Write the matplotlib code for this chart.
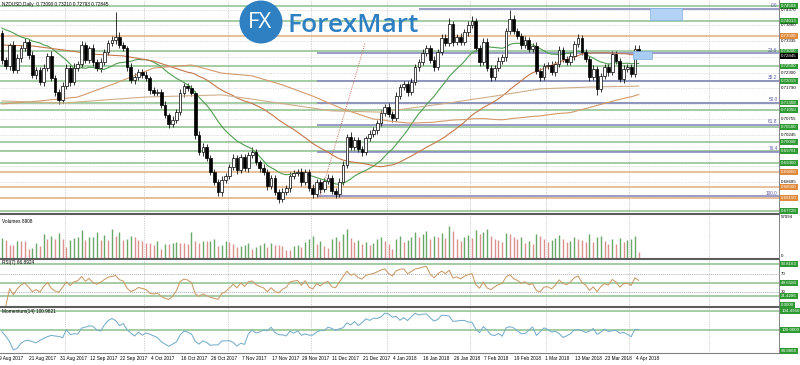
import numpy as np
import pandas as pd
import matplotlib
matplotlib.use("Agg")
import matplotlib.pyplot as plt
from matplotlib.patches import Rectangle, Circle
from matplotlib.transforms import blended_transform_factory as blend

plt.rcParams['font.family'] = ['Liberation Sans', 'DejaVu Sans']

# ---- values (NZDUSD daily, 9 Aug 2017 - 4 Apr 2018) ----
first_open = 0.7361
closes = [
    0.7271, 0.7252, 0.7321, 0.7238, 0.7278, 0.7311, 0.7331, 0.7288,
    0.7222, 0.7238, 0.7199, 0.7245, 0.7285, 0.7212, 0.7166, 0.7139,
    0.7185, 0.7245, 0.7199, 0.7245, 0.7258, 0.7321, 0.7271, 0.7311,
    0.7265, 0.7245, 0.7265, 0.7298, 0.7328, 0.7338, 0.7348, 0.7321,
    0.7311, 0.7248, 0.7205, 0.7215, 0.7232, 0.7222, 0.7212, 0.7172,
    0.7162, 0.7166, 0.7123, 0.7089, 0.7060, 0.7073, 0.7099, 0.7162,
    0.7185, 0.7179, 0.7162, 0.7023, 0.6967, 0.6984, 0.6947, 0.6901,
    0.6868, 0.6835, 0.6874, 0.6888, 0.6917, 0.6947, 0.6907, 0.6950,
    0.6914, 0.6957, 0.6967, 0.6934, 0.6914, 0.6901, 0.6854, 0.6881,
    0.6835, 0.6811, 0.6835, 0.6848, 0.6888, 0.6897, 0.6901, 0.6868,
    0.6901, 0.6848, 0.6828, 0.6868, 0.6845, 0.6871, 0.6881, 0.6838,
    0.6828, 0.6868, 0.6924, 0.7017, 0.6984, 0.7007, 0.6977, 0.6967,
    0.7013, 0.7027, 0.7040, 0.7063, 0.7096, 0.7116, 0.7093, 0.7079,
    0.7152, 0.7182, 0.7192, 0.7166, 0.7199, 0.7248, 0.7265, 0.7295,
    0.7311, 0.7271, 0.7248, 0.7298, 0.7344, 0.7328, 0.7391, 0.7331,
    0.7348, 0.7331, 0.7364, 0.7387, 0.7401, 0.7311, 0.7265, 0.7331,
    0.7245, 0.7215, 0.7245, 0.7268, 0.7281, 0.7368, 0.7407, 0.7368,
    0.7351, 0.7321, 0.7338, 0.7308, 0.7318, 0.7235, 0.7215, 0.7252,
    0.7255, 0.7232, 0.7258, 0.7305, 0.7275, 0.7265, 0.7285, 0.7324,
    0.7344, 0.7298, 0.7275, 0.7215, 0.7242, 0.7176, 0.7219, 0.7248,
    0.7232, 0.7291, 0.7268, 0.7209, 0.7242, 0.7248, 0.7225, 0.7309,
    0.72845,
]
# wick lengths above / below the body, in pips
wick_up = [
    10, 12, 8, 15, 12, 10, 14, 9, 12, 10,
    11, 13, 9, 15, 10, 8, 14, 12, 10, 16,
    9, 12, 11, 8, 14, 10, 12, 9, 11, 13,
    82, 15, 10, 8, 12, 14, 10, 9, 12, 8,
    11, 10, 9, 12, 8, 13, 10, 12, 9, 11,
    10, 8, 12, 14, 9, 10, 11, 8, 12, 10,
    9, 13, 10, 12, 11, 9, 15, 10, 8, 12,
    10, 11, 9, 8, 12, 10, 13, 9, 11, 12,
    10, 9, 12, 11, 8, 10, 12, 9, 10, 13,
    12, 10, 15, 9, 11, 10, 8, 12, 9, 10,
    11, 9, 12, 10, 13, 9, 11, 10, 12, 9,
    10, 12, 11, 9, 13, 10, 12, 14, 20, 11,
    10, 13, 9, 12, 15, 10, 11, 14, 12, 9,
    10, 12, 9, 11, 30, 12, 10, 9, 13, 11,
    10, 12, 9, 11, 10, 12, 9, 14, 10, 11,
    12, 10, 13, 9, 11, 10, 12, 9, 11, 10,
    12, 9, 11, 10, 12, 9, 11, 13, 12,
]
wick_dn = [
    12, 10, 14, 9, 11, 12, 10, 13, 9, 12,
    10, 12, 11, 9, 13, 12, 10, 9, 12, 11,
    10, 13, 9, 11, 12, 10, 14, 9, 11, 10,
    12, 10, 11, 13, 9, 12, 10, 11, 9, 12,
    10, 11, 12, 9, 13, 10, 11, 9, 12, 10,
    11, 14, 10, 12, 9, 11, 10, 15, 12, 9,
    11, 10, 12, 9, 10, 12, 11, 9, 13, 10,
    12, 9, 11, 13, 10, 9, 12, 11, 10, 12,
    9, 11, 12, 10, 13, 9, 11, 10, 12, 9,
    11, 10, 12, 9, 10, 12, 11, 9, 10, 12,
    9, 11, 10, 12, 9, 11, 10, 12, 9, 10,
    12, 9, 11, 10, 12, 9, 11, 10, 9, 12,
    10, 11, 9, 12, 10, 11, 12, 9, 10, 13,
    9, 11, 10, 12, 9, 10, 11, 12, 9, 10,
    11, 10, 12, 9, 11, 10, 12, 9, 10, 11,
    9, 12, 10, 11, 9, 12, 10, 20, 11, 10,
    12, 9, 11, 10, 12, 9, 11, 10, 5,
]
volumes = [
    28300, 25800, 18400, 18400, 23300, 23300, 23300, 11900, 13400, 20800,
    16900, 33200, 26800, 30800, 26800, 34200, 26800, 14900, 25800, 28300,
    29800, 39200, 25800, 29300, 29800, 35700, 25800, 31700, 24800, 40700,
    30800, 35700, 25800, 26800, 30800, 29300, 25800, 23300, 20800, 20800,
    18400, 23300, 11900, 19800, 19800, 20800, 21800, 20800, 20800, 19800,
    35700, 23300, 20800, 23300, 23300, 24300, 26800, 16900, 18400, 23300,
    21800, 19800, 15900, 16900, 17900, 20800, 11900, 15900, 18400, 20800,
    15900, 20800, 18400, 18400, 16900, 10900, 10900, 16900, 18400, 15900,
    22000, 27000, 31000, 19000, 24000, 17000, 14000, 26000,
    29000, 24000, 33000, 41000, 28000, 22000, 25000, 20000,
    23000, 18000, 21000, 26000, 30000, 24000, 19000, 12000,
    27000, 31000, 22000, 25000, 29000, 36000, 30000, 33000,
    38000, 27000, 31000, 29000, 35000, 28000, 45000, 37000,
    26000, 24000, 30000, 32000, 28000, 39000, 34000, 36000,
    40000, 31000, 27000, 25000, 22000, 35000, 33000, 29000,
    27000, 30000, 21000, 24000, 19000, 34000, 31000, 26000,
    23000, 25000, 28000, 32000, 27000, 22000, 24000, 30000,
    26000, 25000, 23000, 33000, 22000, 29000, 31000, 24000,
    20000, 27000, 19000, 28000, 23000, 25000, 27000, 31000,
    8908,
]

# moving averages where the window reaches back before the first visible bar
ma20_head = [0.7377, 0.7371, 0.7367, 0.7361, 0.7354, 0.7348, 0.7344, 0.7341, 0.7334, 0.7331,
             0.7328, 0.7321, 0.7318, 0.7311, 0.7301, 0.7291, 0.7281, 0.7271, 0.7258]
ma50_head_at = [0, 8, 16, 24, 32, 40, 48]
ma50_head = [0.7321, 0.7318, 0.7305, 0.7291, 0.7285, 0.7268, 0.7235]
ma100_head_at = [0, 10, 20, 30, 40, 50, 58, 66, 74, 82, 90, 98]
ma100_head = [0.7126, 0.7136, 0.7149, 0.7195, 0.7245, 0.7255, 0.7228, 0.7219, 0.7189, 0.7152, 0.7109, 0.7076]
ma200_at = [0, 16, 38, 58, 66, 87, 100, 116, 130, 142, 155, 168]
ma200 = [0.7136, 0.7129, 0.7149, 0.7156, 0.7142, 0.7103, 0.7099, 0.7126, 0.7152, 0.7176, 0.7182, 0.7185]
mom_head = [99.6, 98.5, 97.2, 95.2, 95.6, 96.8, 97.4, 97.5, 97.2, 96.9, 97.5, 98.0, 98.4, 98.7]

green_levels = [0.74504, 0.74013, 0.73000, 0.72500, 0.72019, 0.71308, 0.71050,
                0.70500, 0.70008, 0.69701, 0.69300, 0.67729]
orange_levels = [0.73500, 0.69000, 0.68500, 0.68150]
current_price = 0.72845
price_ticks = [0.74370, 0.73860, 0.73335, 0.72820, 0.72300, 0.71790, 0.71275,
               0.70755, 0.70245, 0.69725, 0.69205, 0.68685, 0.68175]
fib_pcts = [0.0, 23.6, 38.2, 50.0, 61.8, 76.4, 100.0]
fib_high, fib_low = 0.7440, 0.6821

rsi_levels = [90.8163, 49.6183, 21.4286]
mom_levels = [104.4950, 100.0]

W, H = 800, 365
RIGHT = 779
n = len(closes)
idx = np.arange(n)
x0, x1 = -2 / 3.79, (RIGHT - 2) / 3.79

fig = plt.figure(figsize=(8, 3.65), dpi=100)
fig.patch.set_facecolor('white')


def panel(top, bottom):
    a = fig.add_axes([0, 1 - bottom / H, RIGHT / W, (bottom - top) / H])
    a.set_xlim(x0, x1)
    a.set_axis_off()
    return a


ax = panel(0, 213)
axv = panel(215, 258)
axr = panel(260, 306)
axm = panel(308, 352)
ax.set_ylim(0.67651, 0.74701)
axv.set_ylim(0, 60000)
axr.set_ylim(0, 100)
axm.set_ylim(94.7, 105.3)

FS = 3.4
TFS = 3.15
GREEN_LINE = '#8dbf8d'
GREEN_TAG = '#2f9a33'
ORANGE_LINE = '#e0ad80'
ORANGE_TAG = '#e08a3c'
FIB = '#8a8cc0'


def tag(a, val, txt, fc, tc='white'):
    kw = dict(boxstyle='square,pad=0.2', fc=fc, ec='none') if fc else None
    a.annotate(txt, xy=(1, val), xycoords=('axes fraction', 'data'), xytext=(1.6, 0),
               textcoords='offset points', fontsize=TFS, color=tc, va='center', ha='left',
               bbox=kw, annotation_clip=False)


# dates and grid
days = pd.bdate_range('2017-08-09', periods=240)
days = days[~days.isin(pd.to_datetime(['2017-12-25', '2018-01-01']))]
month_starts = [i for i in range(1, int(x1) + 1) if days[i].month != days[i - 1].month]
for a in (ax, axv, axr, axm):
    for i in month_starts:
        a.axvline(i - 0.5, color='#aaaaaa', lw=0.5, ls=(0, (1, 1.5)), zorder=0)
for p in price_ticks:
    ax.axhline(p, color='#c4c4c4', lw=0.5, ls=(0, (1, 1.5)), zorder=0)

# horizontal levels
for p in green_levels:
    ax.axhline(p, color=GREEN_LINE, lw=1.1, zorder=1)
    tag(ax, p, f'{p:.5f}', GREEN_TAG)
for p in orange_levels:
    ax.axhline(p, color=ORANGE_LINE, lw=1.1, zorder=1)
    tag(ax, p, f'{p:.5f}', ORANGE_TAG)
tag(ax, current_price, f'{current_price:.5f}', 'black')
boxed = green_levels + orange_levels + [current_price]
for p in price_ticks:
    if min(abs(p - b) for b in boxed) > 0.0012:
        tag(ax, p, f'{p:.5f}', None, tc='black')

# fibonacci retracement
for pct in fib_pcts:
    lvl = fib_high - pct / 100 * (fib_high - fib_low)
    start = 110 if pct == 0 else 83
    ax.hlines(lvl, start, x1, color=FIB, lw=1.2, zorder=2)
    ax.text(x1 - 0.4, lvl + 0.0002, f'{pct:.1f}', ha='right', va='bottom', fontsize=FS,
            color='#5a5aa8', zorder=6)
ax.plot([83.9, 95.8], [0.6818, 0.7328], ls=(0, (1, 1.3)), color='#c8705a', lw=0.7, zorder=2)

# blue boxes
ax.add_patch(Rectangle((171, 0.7404), 8.4, 0.0039, fc='#b3d3f4', ec='#7fb0e0', lw=0.5, zorder=5))
ax.add_patch(Rectangle((166.5, 0.7276), 5.0, 0.0025, fc='#a9cdf2', ec='#7fb0e0', lw=0.5, zorder=5))

# candles
c = np.array(closes)
o = np.r_[first_open, c[:-1]]
hi = np.maximum(o, c) + np.array(wick_up) * 1e-4
lo = np.minimum(o, c) - np.array(wick_dn) * 1e-4
up = c >= o
ax.vlines(idx, lo, hi, color='black', lw=0.55, zorder=3)
ax.bar(idx[up], (c - o)[up], bottom=o[up], width=0.72, color='white', edgecolor='black',
       lw=0.5, zorder=4)
ax.bar(idx[~up], (o - c)[~up], bottom=c[~up], width=0.72, color='black', edgecolor='black',
       lw=0.5, zorder=4)

# moving averages
s = pd.Series(c)
ma20 = np.r_[ma20_head, s.rolling(20).mean().values[19:]]
ax.plot(idx, ma20, color='#4f9e4f', lw=0.8, zorder=3)
ax.plot(np.r_[ma50_head_at, idx[49:]], np.r_[ma50_head, s.rolling(50).mean().values[49:]],
        color='#c4774a', lw=0.8, zorder=3)
ax.plot(np.r_[ma100_head_at, idx[99:]], np.r_[ma100_head, s.rolling(100).mean().values[99:]],
        color='#d39a6a', lw=0.8, zorder=3)
ax.plot(ma200_at, ma200, color='#cfae8a', lw=0.8, zorder=3)

ax.text(0.003, 0.992, 'NZDUSD,Daily  0.73090 0.73210 0.72793 0.72845', transform=ax.transAxes,
        fontsize=FS, va='top', ha='left', zorder=7)

# volumes
vol = np.array(volumes)
vcol = ['#6aa86a' if i == 0 or vol[i] > vol[i - 1] else '#dc8f8f' for i in range(n)]
axv.vlines(idx, 0, vol, colors=vcol, lw=1.0)
axv.text(0.003, 0.86, f'Volumes {volumes[-1]}', transform=axv.transAxes, fontsize=FS, va='center')
tag(axv, 57094, '57094', None, tc='black')
tag(axv, 2500, '0', None, tc='black')

# RSI
rsi_n = 7
d = s.diff()
g = d.clip(lower=0).ewm(alpha=1 / rsi_n, adjust=False).mean()
l = (-d.clip(upper=0)).ewm(alpha=1 / rsi_n, adjust=False).mean()
rsi = (100 - 100 / (1 + g / l)).values
for lv in (70, 30):
    axr.axhline(lv, color='#909090', lw=0.5, ls=(0, (1.5, 1.5)))
    tag(axr, lv, str(lv), None, tc='black')
for lv in rsi_levels:
    axr.axhline(lv, color=GREEN_LINE, lw=1.1)
    tag(axr, lv, f'{lv:.4f}', GREEN_TAG)
tag(axr, 1.5, '0.0000', GREEN_TAG)
axr.plot(idx[1:], rsi[1:], color='#c99a68', lw=0.75)
axr.text(0.003, 0.935, 'RSI(7) 66.8924', transform=axr.transAxes, fontsize=FS, va='center')

# momentum
mom = (s / s.shift(14) * 100).values
mom[:14] = mom_head
for lv in mom_levels:
    axm.axhline(lv, color=GREEN_LINE, lw=1.1)
    tag(axm, lv, f'{lv:.4f}', GREEN_TAG)
tag(axm, 94.8868, '94.8868', GREEN_TAG)
axm.plot(idx, mom, color='#76aecb', lw=0.75)
axm.text(0.003, 0.93, 'Momentum(14) 100.9821', transform=axm.transAxes, fontsize=FS, va='center')

# date labels
tr = blend(axm.transData, axm.transAxes)
for i in range(0, n, 8):
    dd = days[i]
    axm.text(i - 0.8, -0.15, f'{dd.day} {dd.strftime("%b %Y")}', transform=tr, fontsize=FS,
             ha='left', va='center', clip_on=False)

# separators and frame
def sep(y, lw=1.5, color='#5c5c5c'):
    fig.add_artist(plt.Line2D([0, RIGHT / W], [1 - y / H] * 2, transform=fig.transFigure,
                              color=color, lw=lw))


sep(213.8)
sep(258.8)
sep(307.0)
sep(352.8, lw=0.8, color='#808080')
fig.add_artist(plt.Line2D([RIGHT / W] * 2, [1 - 353 / H, 1], transform=fig.transFigure,
                          color='#707070', lw=0.6))

# ForexMart logo
lax = fig.add_axes([239 / W, 1 - 44 / H, 44 / W, 44 / H])
lax.set_xlim(0, 44)
lax.set_ylim(0, 44)
lax.set_axis_off()
lax.add_patch(Circle((22, 22), 21.5, fc='#2f80c3', ec='none'))
lax.text(21, 21, 'FX', color='white', fontsize=16, ha='center', va='center', family='Open Sans')
fig.text(287 / W, 1 - 32 / H, 'ForexMart', color='#2f80c3', fontsize=19, family='Open Sans',
         fontweight='semibold', va='baseline', ha='left')

fig.savefig('out.png', dpi=100)
